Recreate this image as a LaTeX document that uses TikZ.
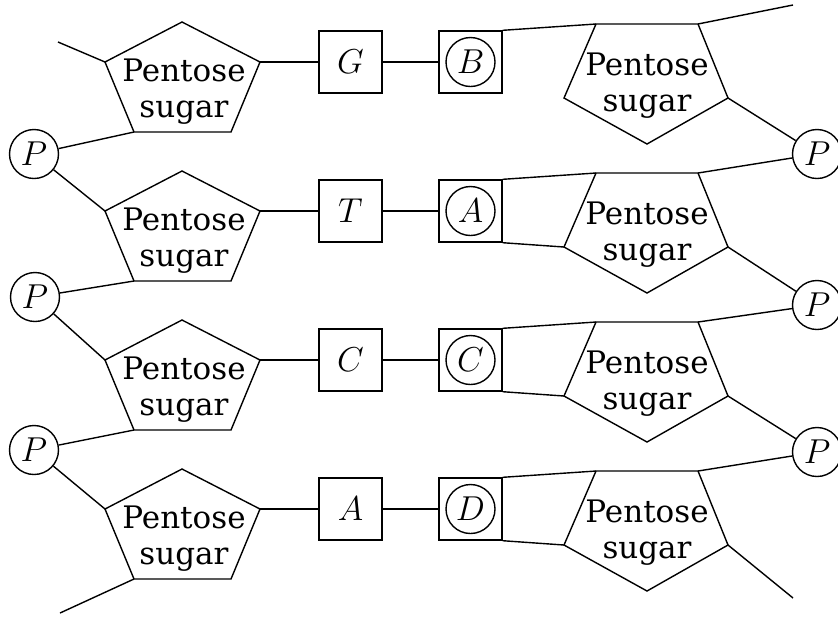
\documentclass[tikz,border=0pt]{standalone}
\usepackage{fontspec}
\usepackage{tikz}
\usetikzlibrary{positioning,calc}
\newfontfamily\sugarfont{DejaVu Serif}

\tikzset{
  base/.style={draw, minimum width=31.5pt, minimum height=31pt, inner sep=0pt},
  ring/.style={draw, circle, minimum size=24.5pt, inner sep=0pt},
  sugar/.style={align=center, inner sep=0pt, font=\sugarfont\fontsize{15.5}{18}\selectfont},
}

\begin{document}
\begin{tikzpicture}[x=0.5pt, y=-0.5pt, line width=0.7pt, font=\fontsize{17}{18}\selectfont]
    \useasboundingbox (0,0) rectangle (838,618);

    % one base pair per row
    \foreach \k/\l/\r [count=\i] in {0/G/B, 149/T/A, 298/C/C, 447/A/D} {
        \coordinate (lsa\i) at (182,22+\k);
        \coordinate (lsb\i) at (260,62+\k);
        \coordinate (lsc\i) at (231,132+\k);
        \coordinate (lsd\i) at (134,132+\k);
        \coordinate (lse\i) at (105,62+\k);
        \draw (lsa\i) -- (lsb\i) -- (lsc\i) -- (lsd\i) -- (lse\i) -- cycle;
        \node [sugar] (lsugar\i) at (184,92+\k) {Pentose\\sugar};

        \coordinate (rsa\i) at (596,24+\k);
        \coordinate (rsb\i) at (698,24+\k);
        \coordinate (rsc\i) at (728,98+\k);
        \coordinate (rsd\i) at (647,144+\k);
        \coordinate (rse\i) at (564,98+\k);
        \draw (rsa\i) -- (rsb\i) -- (rsc\i) -- (rsd\i) -- (rse\i) -- cycle;
        \node [sugar] (rsugar\i) at (647,86+\k) {Pentose\\sugar};

        \node [base] (lbase\i) at (350.5,62+\k) {$\l$};
        \node [base] (rbase\i) at (470.5,62+\k) {};
        \node [ring] (rring\i) at (rbase\i) {$\r$};

        \draw (lsb\i) -- (lbase\i.west);
        \draw (lbase\i) -- (rbase\i);
        \draw (rbase\i.north east) -- (rsa\i);
        \ifnum\i>1 \draw (rbase\i.south east) -- (rse\i); \fi
    }

    % phosphates
    \node [ring] (lp1) at (34,154) {$P$};
    \node [ring] (lp2) at (35,297) {$P$};
    \node [ring] (lp3) at (34,450) {$P$};
    \node [ring] (rp1) at (817,154) {$P$};
    \node [ring] (rp2) at (817,305) {$P$};
    \node [ring] (rp3) at (817,452) {$P$};

    \foreach \i/\j in {1/2, 2/3, 3/4} {
        \draw (lsd\i) -- (lp\i) -- (lse\j);
        \draw (rsc\i) -- (rp\i) -- (rsb\j);
    }

    % loose ends
    \coordinate (topl) at (58,42);
    \coordinate (botl) at (60,613);
    \coordinate (topr) at (793,5);
    \coordinate (botr) at (793,598);
    \draw (topl) -- (lse1);
    \draw (botl) -- (lsd4);
    \draw (topr) -- (rsb1);
    \draw (botr) -- (rsc4);
\end{tikzpicture}
\end{document}
